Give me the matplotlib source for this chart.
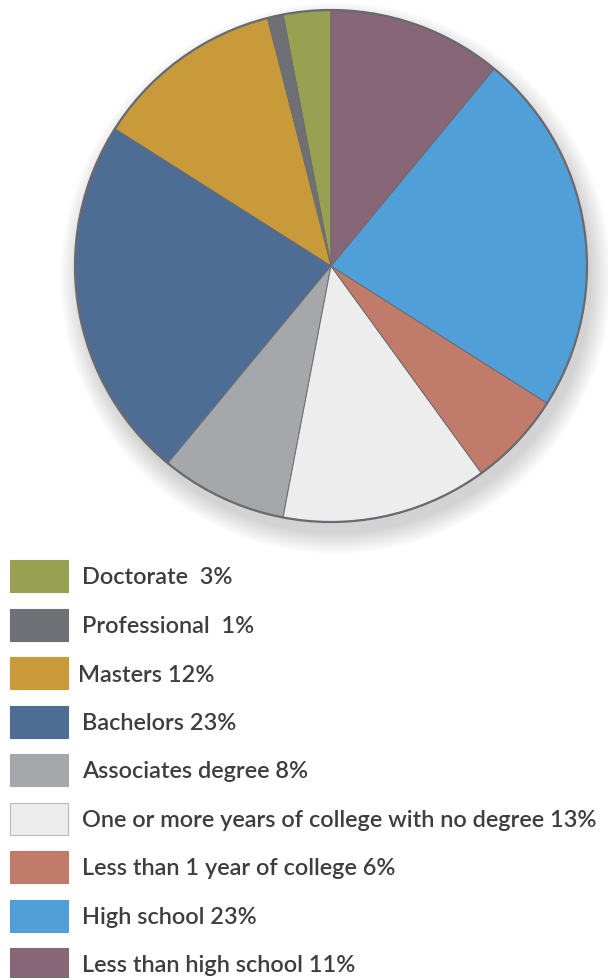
import matplotlib.pyplot as plt
from matplotlib.patches import Circle, Rectangle

# Educational attainment shares (%), listed counterclockwise from 12 o'clock
categorias = ['Doctorate', 'Professional', 'Masters', 'Bachelors',
              'Associates degree', 'One or more years of college with no degree',
              'Less than 1 year of college', 'High school', 'Less than high school']
percentuais = [3, 1, 12, 23, 8, 13, 6, 23, 11]
rotulos = ['Doctorate  3%', 'Professional  1%', 'Masters 12%', 'Bachelors 23%',
           'Associates degree 8%', 'One or more years of college with no degree 13%',
           'Less than 1 year of college 6%', 'High school 23%',
           'Less than high school 11%']
cores = ['#98a152', '#6f7075', '#c99a3a', '#4d6d95', '#a5a7aa',
         '#ededee', '#c07b6b', '#509fd8', '#866677']

W, H = 608, 979
fig = plt.figure(figsize=(W / 100, H / 100), dpi=100)
ax = fig.add_axes([0, 0, 1, 1])

cx, cy, raio = 331, H - 267, 256

# sombra suave abaixo da pizza
for k in range(22):
    ax.add_patch(Circle((cx + 5, cy - 12), raio + 20 - k, color='#555555',
                        alpha=0.012, lw=0, zorder=1))

ax.pie(percentuais, colors=cores, startangle=90, counterclock=True,
       center=(cx, cy), radius=raio, frame=True,
       wedgeprops=dict(edgecolor='#6c6c70', linewidth=0.7, zorder=2))
ax.add_patch(Circle((cx, cy), raio, fill=False, edgecolor='#6a6a6e',
                    lw=1.6, zorder=3))
ax.set_xlim(0, W)
ax.set_ylim(0, H)
ax.set_aspect('equal')
ax.axis('off')

# legenda manual
topo = 561
passo = 48.5
for i, (rot, cor) in enumerate(zip(rotulos, cores)):
    y0 = H - (topo + i * passo) - 32
    ax.add_patch(Rectangle((10, y0), 58, 32, facecolor=cor,
                           edgecolor='#b8b8b8' if cor == '#ededee' else cor,
                           lw=0.8, zorder=2))
    xt = 78 if rot.startswith('Masters') else 82
    ax.text(xt, y0 + 15, rot, fontsize=16.9, color='#3e3e3e',
            family='Lato', fontweight='semibold', va='center', ha='left')

fig.savefig('out.png', dpi=100)
